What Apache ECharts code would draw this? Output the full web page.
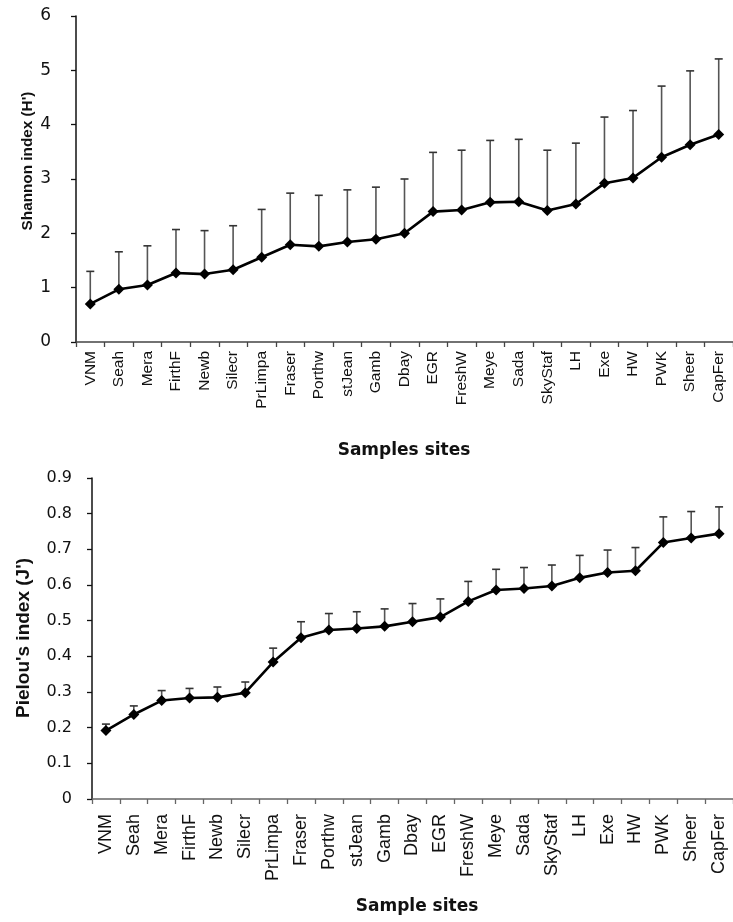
<!DOCTYPE html>
<html>
<head>
<meta charset="utf-8">
<script src="https://cdn.jsdelivr.net/npm/echarts@6/dist/echarts.min.js"></script>
<style>
  html, body { margin: 0; padding: 0; background: #fff; }
  #chart { width: 733px; height: 922px; }
</style>
</head>
<body>
<div id="chart"></div>
<script>
// Sampling sites, ordered by increasing diversity
const sites = ['VNM', 'Seah', 'Mera', 'FirthF', 'Newb', 'Silecr', 'PrLimpa', 'Fraser', 'Porthw', 'stJean',
  'Gamb', 'Dbay', 'EGR', 'FreshW', 'Meye', 'Sada', 'SkyStaf', 'LH', 'Exe', 'HW', 'PWK', 'Sheer', 'CapFer'];

// Shannon diversity (H') mean and upper standard deviation
const shannon = [0.70, 0.97, 1.05, 1.27, 1.25, 1.33, 1.56, 1.79, 1.76, 1.84,
  1.89, 2.00, 2.40, 2.43, 2.57, 2.58, 2.42, 2.54, 2.92, 3.02, 3.40, 3.63, 3.82];
const shannonSd = [0.60, 0.69, 0.72, 0.80, 0.80, 0.81, 0.88, 0.95, 0.94, 0.96,
  0.96, 1.00, 1.09, 1.10, 1.14, 1.15, 1.11, 1.12, 1.22, 1.24, 1.31, 1.36, 1.39];

// Pielou's evenness (J') mean and upper standard deviation
const pielou = [0.192, 0.237, 0.276, 0.283, 0.285, 0.298, 0.384, 0.452, 0.474, 0.478,
  0.484, 0.497, 0.510, 0.554, 0.586, 0.590, 0.597, 0.620, 0.635, 0.640, 0.719, 0.732, 0.744];
const pielouSd = [0.018, 0.024, 0.028, 0.027, 0.029, 0.030, 0.039, 0.045, 0.046, 0.047,
  0.049, 0.051, 0.051, 0.056, 0.058, 0.059, 0.059, 0.063, 0.063, 0.065, 0.072, 0.074, 0.075];

// Axis tick settings
const shannonTicks = { min: 0, max: 6, interval: 1 };
const pielouTicks = { min: 0, max: 0.9, interval: 0.1 };

const chart = echarts.init(document.getElementById('chart'), null, { renderer: 'canvas' });

// Upper-only error bar with a short cap
function errorBar(params, api) {
  const idx = api.value(0);
  const mean = api.value(1);
  const sd = api.value(2);
  const p0 = api.coord([idx, mean]);
  const p1 = api.coord([idx, mean + sd]);
  const hw = 4;
  return {
    type: 'group',
    children: [
      { type: 'line', shape: { x1: p0[0], y1: p0[1], x2: p1[0], y2: p1[1] },
        style: { stroke: '#555', lineWidth: 1.6 } },
      { type: 'line', shape: { x1: p1[0] - hw, y1: p1[1], x2: p1[0] + hw, y2: p1[1] },
        style: { stroke: '#333', lineWidth: 1.6 } }
    ]
  };
}

function catAxis(gridIndex, fontSize, margin, lineColor) {
  return {
    type: 'category',
    gridIndex: gridIndex,
    data: sites,
    boundaryGap: true,
    axisLine: { lineStyle: { color: lineColor, width: 1.5 } },
    axisTick: { show: true, length: 5, inside: false, alignWithLabel: false,
      lineStyle: { color: lineColor, width: 1.3 } },
    axisLabel: { rotate: 90, interval: 0, margin: margin, color: '#111',
      fontFamily: 'Liberation Sans', fontSize: fontSize }
  };
}

function valAxis(gridIndex, ticks, decimals, margin, fontSize) {
  return {
    type: 'value',
    gridIndex: gridIndex,
    min: ticks.min, max: ticks.max, interval: ticks.interval,
    splitLine: { show: false },
    axisLine: { show: true, lineStyle: { color: '#111', width: 1.5 } },
    axisTick: { show: true, length: 5, lineStyle: { color: '#111', width: 1.3 } },
    axisLabel: { margin: margin, color: '#111', fontFamily: 'DejaVu Sans', fontSize: fontSize,
      formatter: v => (v === 0 ? '0' : (decimals ? v.toFixed(decimals) : String(Math.round(v)))) }
  };
}

const option = {
  animation: false,
  backgroundColor: '#fff',
  grid: [
    { left: 76, top: 16, width: 657, height: 326 },
    { left: 92, top: 478, width: 652, height: 321 }
  ],
  xAxis: [
    catAxis(0, 15.5, 9, '#444'),
    catAxis(1, 18, 15, '#666')
  ],
  yAxis: [
    valAxis(0, shannonTicks, 0, 25, 17),
    valAxis(1, pielouTicks, 1, 20, 16)
  ],
  series: [
    {
      type: 'custom', xAxisIndex: 0, yAxisIndex: 0, z: 1,
      renderItem: errorBar,
      encode: { x: 0, y: [1, 2] },
      data: sites.map((s, i) => [i, shannon[i], shannonSd[i]])
    },
    {
      type: 'line', xAxisIndex: 0, yAxisIndex: 0, z: 3,
      data: shannon,
      symbol: 'diamond', symbolSize: 11,
      itemStyle: { color: '#000' },
      lineStyle: { color: '#000', width: 2.6 }
    },
    {
      type: 'custom', xAxisIndex: 1, yAxisIndex: 1, z: 1,
      renderItem: errorBar,
      encode: { x: 0, y: [1, 2] },
      data: sites.map((s, i) => [i, pielou[i], pielouSd[i]])
    },
    {
      type: 'line', xAxisIndex: 1, yAxisIndex: 1, z: 3,
      data: pielou,
      symbol: 'diamond', symbolSize: 11,
      itemStyle: { color: '#000' },
      lineStyle: { color: '#000', width: 2.6 }
    }
  ],
  graphic: [
    { type: 'text', x: 28, y: 161, rotation: Math.PI / 2,
      style: { text: "Shannon index (H')", fontFamily: 'Liberation Sans', fontWeight: 'bold',
        fontSize: 15.3, fill: '#111', align: 'center', verticalAlign: 'middle' } },
    { type: 'text', x: 404, y: 451,
      style: { text: 'Samples sites', fontFamily: 'DejaVu Sans', fontWeight: 'bold',
        fontSize: 17, fill: '#111', align: 'center', verticalAlign: 'middle' } },
    { type: 'text', x: 24, y: 638, rotation: Math.PI / 2,
      style: { text: "Pielou's index (J')", fontFamily: 'Liberation Sans', fontWeight: 'bold',
        fontSize: 19, fill: '#111', align: 'center', verticalAlign: 'middle' } },
    { type: 'text', x: 417, y: 907,
      style: { text: 'Sample sites', fontFamily: 'DejaVu Sans', fontWeight: 'bold',
        fontSize: 17, fill: '#111', align: 'center', verticalAlign: 'middle' } }
  ]
};

chart.setOption(option);
</script>
</body>
</html>
